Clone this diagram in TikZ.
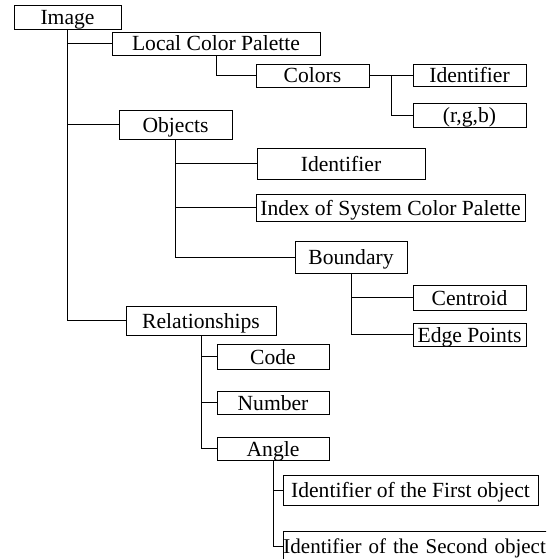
\documentclass[tikz,border=0pt]{standalone}
\usepackage{fontspec}
\setmainfont{Liberation Serif}
\begin{document}
\begin{tikzpicture}[x=1pt,y=-1pt,
  box/.style={draw=black,line width=0.9pt,inner sep=0pt,text height=15pt,text depth=0pt,font=\fontsize{21.6}{24}\selectfont},
  link/.style={draw=black,line width=0.9pt}]
\clip (0,0) rectangle (546,559);
\node[box,minimum width=107,minimum height=24] (img) at (67.5,17) {Image};
\node[box,minimum width=208,minimum height=23] (lcp) at (216,43.5) {Local Color Palette};
\node[box,minimum width=113,minimum height=23] (colors) at (312.5,75.5) {Colors};
\node[box,minimum width=113,minimum height=22] (cid) at (469.5,75.5) {Identifier};
\node[box,minimum width=113,minimum height=24] (rgb) at (469.5,115) {(r,g,b)};
\node[box,minimum width=113,minimum height=29] (obj) at (175.5,124.5) {Objects};
\node[box,minimum width=168,minimum height=31] (oid) at (341,163.5) {Identifier};
\node[box,minimum width=269,minimum height=27] (idx) at (390.5,207.5) {Index of System Color Palette};
\node[box,minimum width=112,minimum height=32] (bnd) at (351,257) {Boundary};
\node[box,minimum width=113,minimum height=25] (cen) at (469.5,297.5) {Centroid};
\node[box,minimum width=113,minimum height=23] (edge) at (469.5,334.5) {Edge Points};
\node[box,minimum width=150,minimum height=29] (rel) at (201,320.5) {Relationships};
\node[box,minimum width=112,minimum height=25] (code) at (273,356.5) {Code};
\node[box,minimum width=112,minimum height=23] (num) at (273,402.5) {Number};
\node[box,minimum width=112,minimum height=23] (ang) at (273,448.5) {Angle};
\node[box,minimum width=255,minimum height=30] (first) at (410.5,490) {Identifier of the First object};
\node[box,font=\fontsize{21}{24}\selectfont,anchor=west,text width=300pt,inner xsep=0pt,align=left,minimum height=30] (second) at (283,546) {Identifier of the Second object};
\coordinate (cbr) at (391,75.5);
% connectors
\draw[link] (img.south) |- (rel.west);
\draw[link] (img.south |- lcp.west) -- (lcp.west);
\draw[link] (img.south |- obj.west) -- (obj.west);
\draw[link] (lcp.south) |- (colors.west);
\draw[link] (colors.east) -- (cid.west);
\draw[link] (cbr) |- (rgb.west);
\draw[link] (obj.south) |- (bnd.west);
\draw[link] (obj.south |- oid.west) -- (oid.west);
\draw[link] (obj.south |- idx.west) -- (idx.west);
\draw[link] (bnd.south) |- (edge.west);
\draw[link] (bnd.south |- cen.west) -- (cen.west);
\draw[link] (rel.south) |- (ang.west);
\draw[link] (rel.south |- code.west) -- (code.west);
\draw[link] (rel.south |- num.west) -- (num.west);
\draw[link] (ang.south) |- (second.west);
\draw[link] (ang.south |- first.west) -- (first.west);
\end{tikzpicture}
\end{document}
